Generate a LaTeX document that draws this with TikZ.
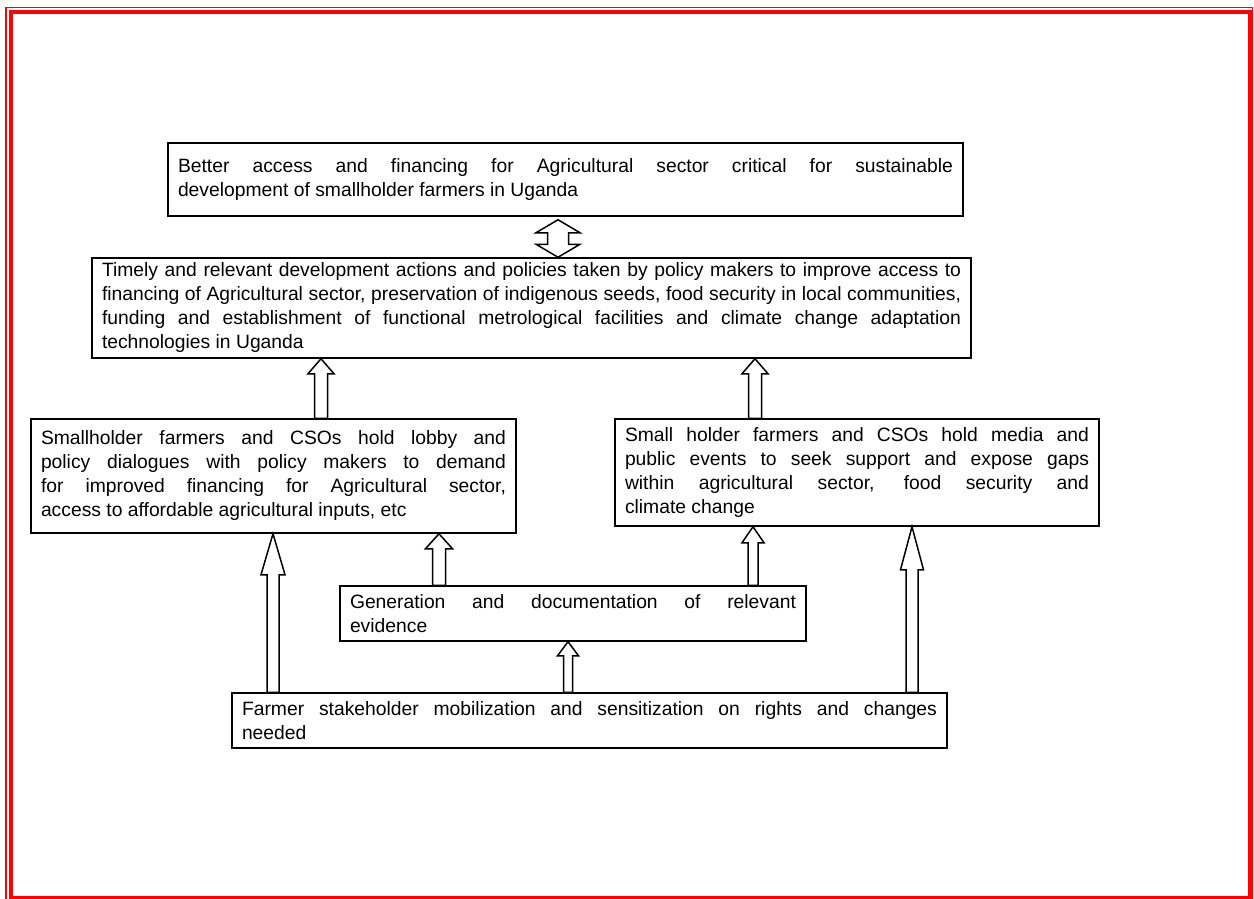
\documentclass[tikz,border=0pt]{standalone}
\usepackage{fontspec}
\setmainfont{Liberation Sans}
\usetikzlibrary{calc}

% hollow block arrow pointing up: x, from, to, shaft, head, head length
\newcommand{\blockup}[6]{%
 \draw[blockarrow] let \p1=(#2), \p2=(#3) in
 (#1pt-#4pt/2,\y1) -- (#1pt-#4pt/2,\y2-#6pt) -- (#1pt-#5pt/2,\y2-#6pt) -- (#1pt,\y2)
 -- (#1pt+#5pt/2,\y2-#6pt) -- (#1pt+#4pt/2,\y2-#6pt) -- (#1pt+#4pt/2,\y1) -- cycle;}
% hollow block arrow with two heads: x, upper end, lower end, shaft, head, head length
\newcommand{\blockboth}[6]{%
 \draw[blockarrow] let \p1=(#2), \p2=(#3) in
 (#1pt,\y1) -- (#1pt+#5pt/2,\y1-#6pt) -- (#1pt+#4pt/2,\y1-#6pt) -- (#1pt+#4pt/2,\y2+#6pt)
 -- (#1pt+#5pt/2,\y2+#6pt) -- (#1pt,\y2) -- (#1pt-#5pt/2,\y2+#6pt) -- (#1pt-#4pt/2,\y2+#6pt)
 -- (#1pt-#4pt/2,\y1-#6pt) -- (#1pt-#5pt/2,\y1-#6pt) -- cycle;}

\begin{document}
\begin{tikzpicture}[
 x=1pt, y=-1pt,
 box/.style={draw=black, line width=1.5pt, align=justify, inner xsep=10pt, inner ysep=0pt,
  font=\fontsize{19.3}{24}\selectfont},
 blockarrow/.style={draw=black, line width=1.5pt, line join=miter},
 thinframe/.style={draw=red, line width=1.6pt},
 thickframe/.style={draw=red, line width=4pt}
]
\useasboundingbox (0,0) rectangle (1254,899);

% Page border
\draw[thinframe] (6,7.5) rectangle (1252.5,901);
\draw[thickframe] (10.5,12) rectangle (1249.5,897.5);

% Goal and policy outcome
\node[box, text width=775pt, minimum height=73pt] (goal) at (565.5,179.5)
 {Better access and financing for Agricultural sector critical for sustainable\linebreak
 development of smallholder farmers in Uganda};
\node[box, text width=859pt, minimum height=100pt] (policy) at (531.5,308)
 {Timely and relevant development actions and policies taken by policy makers to improve access to\linebreak
 financing of Agricultural sector, preservation of indigenous seeds, food security in local communities,\linebreak
 funding and establishment of functional metrological facilities and climate change adaptation\linebreak
 technologies in Uganda};

% Advocacy strands
\node[box, text width=465pt, minimum height=114pt] (lobby) at (273.5,476)
 {Smallholder farmers and CSOs hold lobby and\linebreak
 policy dialogues with policy makers to demand\linebreak
 for improved financing for Agricultural sector,\linebreak
 access to affordable agricultural inputs, etc};
\node[box, text width=464pt, minimum height=107pt] (media) at (857,472.5)
 {Small holder farmers and CSOs hold media and\linebreak
 public events to seek support and expose gaps\linebreak
 within agricultural sector, food security and\linebreak
 climate change};

% Evidence and mobilization
\node[box, text width=446pt, minimum height=55pt] (evidence) at (573,613.5)
 {Generation and documentation of relevant\linebreak evidence};
\node[box, text width=695pt, minimum height=55pt] (mobil) at (589.5,720.5)
 {Farmer stakeholder mobilization and sensitization on rights and changes\linebreak needed};

% Links
\blockboth{558}{$(goal.south)+(0,3)$}{policy.north}{21}{44}{13}
\blockup{321}{lobby.north}{policy.south}{13}{26}{15}
\blockup{755}{media.north}{policy.south}{13}{26}{15}
\blockup{439}{evidence.north}{lobby.south}{13}{27}{15}
\blockup{753}{evidence.north}{media.south}{10}{22}{16}
\blockup{568}{mobil.north}{evidence.south}{9}{21}{14}
\blockup{273}{mobil.north}{lobby.south}{12}{24}{41}
\blockup{912}{mobil.north}{media.south}{12}{23}{43}
\end{tikzpicture}
\end{document}
